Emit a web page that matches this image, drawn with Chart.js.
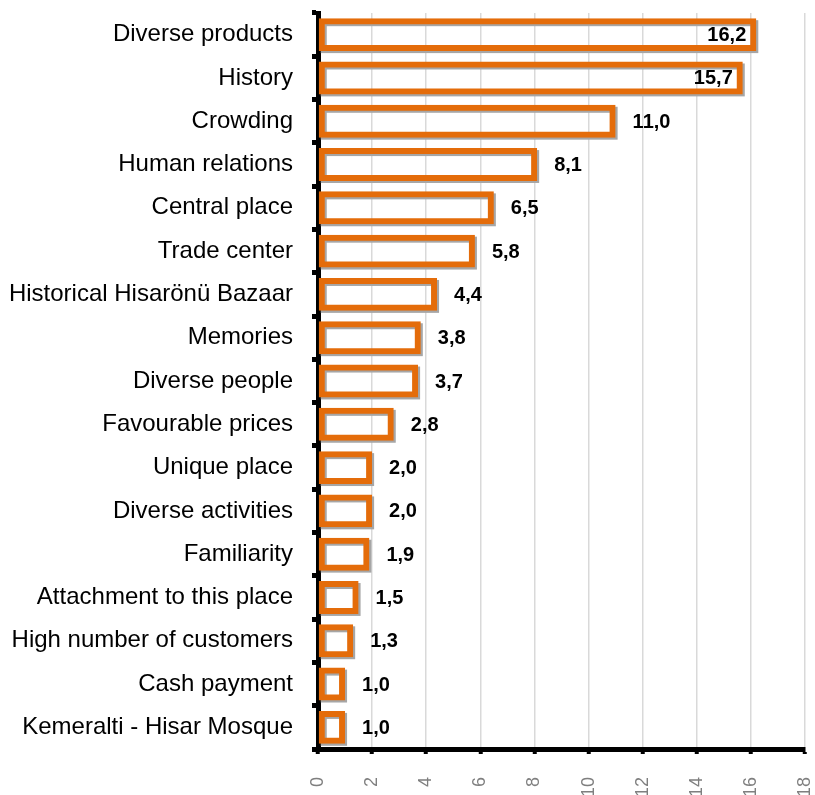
<!DOCTYPE html>
<html>
<head>
<meta charset="utf-8">
<script src="https://cdn.jsdelivr.net/npm/chart.js@4"></script>
<style>
  html, body { margin: 0; padding: 0; background: #fff; }
  canvas { display: block; }
</style>
</head>
<body>
<canvas id="barChart" width="815" height="795"></canvas>
<script>
/* --------------- Data --------------------- */
const categories = [
  "Diverse products",
  "History",
  "Crowding",
  "Human relations",
  "Central place",
  "Trade center",
  "Historical Hisarönü Bazaar",
  "Memories",
  "Diverse people",
  "Favourable prices",
  "Unique place",
  "Diverse activities",
  "Familiarity",
  "Attachment to this place",
  "High number of customers",
  "Cash payment",
  "Kemeralti - Hisar Mosque",
];
const values = [16.2, 15.7, 11.0, 8.1, 6.5, 5.8, 4.4, 3.8, 3.7, 2.8, 2.0, 2.0, 1.9, 1.5, 1.3, 1.0, 1.0];
const xTicks = [0, 2, 4, 6, 8, 10, 12, 14, 16, 18];

/* --------------- Styles --------------------- */
const orange = "#E46C0A";
const shadowGray = "#A6A6A6";
const fontFamily = "'Liberation Sans', Arial, sans-serif";
const barBorder = 6;

/* --------------- Gray shadow behind each bar outline --------------------- */
const barShadow = {
  id: "barShadow",
  beforeDatasetsDraw(chart) {
    const ctx = chart.ctx;
    const meta = chart.getDatasetMeta(0);
    const half = barBorder / 2;
    ctx.save();
    ctx.strokeStyle = shadowGray;
    ctx.lineWidth = barBorder;
    meta.data.forEach((bar) => {
      const { x, y, base, height } = bar.getProps(["x", "y", "base", "height"], true);
      ctx.strokeRect(base + half + 2, y - height / 2 + half + 2, x - base - barBorder, height - barBorder);
    });
    ctx.restore();
  },
};

/* --------------- Value labels --------------------- */
const valueLabels = {
  id: "valueLabels",
  afterDatasetsDraw(chart) {
    const ctx = chart.ctx;
    const meta = chart.getDatasetMeta(0);
    ctx.save();
    ctx.font = "bold 20px " + fontFamily;
    ctx.fillStyle = "#000";
    ctx.textBaseline = "middle";
    meta.data.forEach((bar, i) => {
      const text = values[i].toFixed(1).replace(".", ",");
      const w = ctx.measureText(text).width;
      if (bar.x + 17 + w > chart.chartArea.right - 12) {
        ctx.textAlign = "right";
        ctx.fillText(text, bar.x - 10, bar.y + 1);
      } else {
        ctx.textAlign = "left";
        ctx.fillText(text, bar.x + 17, bar.y + 1);
      }
    });
    ctx.restore();
  },
};

/* --------------- Chart --------------------- */
new Chart(document.getElementById("barChart"), {
  type: "bar",
  plugins: [barShadow, valueLabels],
  data: {
    labels: categories,
    datasets: [
      {
        data: values,
        backgroundColor: "rgba(255,255,255,0)",
        borderColor: orange,
        borderWidth: barBorder,
        borderSkipped: false,
        inflateAmount: 0,
        categoryPercentage: 0.76,
        barPercentage: 1,
      },
    ],
  },
  options: {
    indexAxis: "y",
    responsive: false,
    animation: false,
    layout: { padding: { top: 13, right: 10, left: 0, bottom: 0 } },
    plugins: {
      legend: { display: false },
      tooltip: { enabled: false },
    },
    scales: {
      x: {
        type: "linear",
        min: 0,
        max: 18,
        afterBuildTicks: (scale) => {
          scale.ticks = xTicks.map((v) => ({ value: v }));
        },
        afterFit: (scale) => {
          scale.height = 46;
          scale.paddingLeft = 0;
          scale.paddingRight = 0;
        },
        border: { display: true, color: "#000", width: 5 },
        grid: {
          color: "#D9D9D9",
          lineWidth: 1.5,
          tickColor: "#000",
          tickLength: 5,
          tickWidth: 4,
        },
        ticks: {
          minRotation: 90,
          maxRotation: 90,
          padding: 23,
          color: "#7F7F7F",
          font: { family: fontFamily, size: 18 },
        },
      },
      y: {
        z: 1,
        afterFit: (scale) => {
          scale.width = 318;
          scale.paddingTop = 0;
          scale.paddingBottom = 0;
        },
        border: { display: true, color: "#000", width: 5 },
        grid: {
          drawOnChartArea: false,
          tickColor: "#000",
          tickLength: 6,
          tickWidth: 5,
        },
        ticks: {
          padding: 19,
          color: "#000",
          font: { family: fontFamily, size: 24 },
        },
      },
    },
  },
});
</script>
</body>
</html>
